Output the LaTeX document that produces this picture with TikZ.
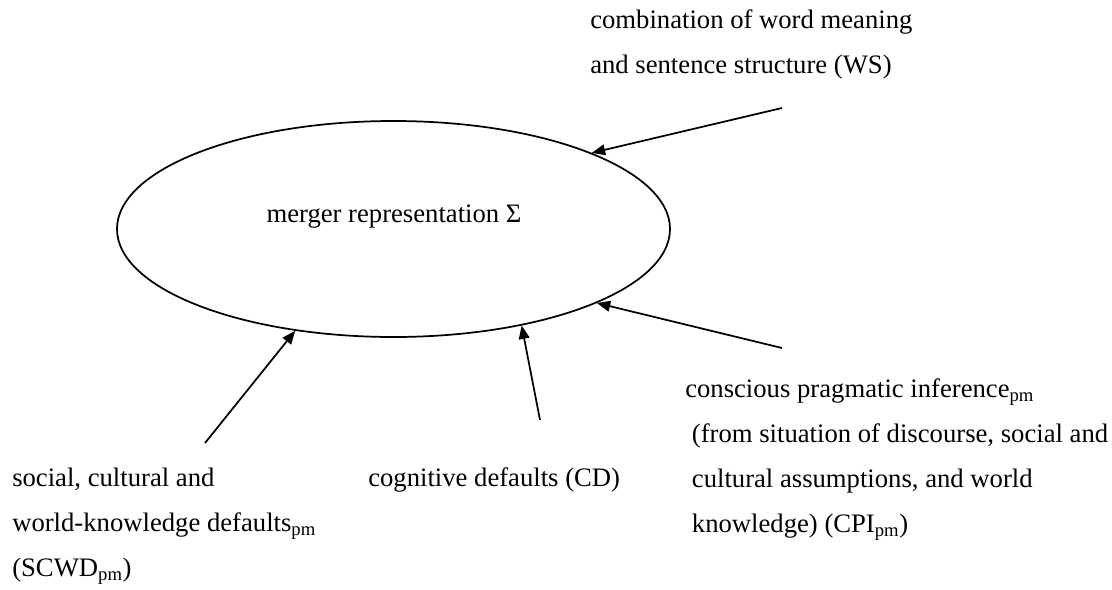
\documentclass[tikz,border=0pt]{standalone}
\usepackage{fontspec}
\setmainfont{Liberation Serif}
\usetikzlibrary{arrows}
\usetikzlibrary{arrows.meta}
\usetikzlibrary{shapes.geometric}

\begin{document}
\begin{tikzpicture}[x=0.75pt,y=-0.75pt,
            txt/.style={anchor=base west,align=left,inner sep=0pt,font=\fontsize{20}{33.75}\selectfont},
            feed/.style={line width=1.3pt,arrows={-Triangle[length=10pt,width=8pt]}}]
            \useasboundingbox (0,0) rectangle (1112,589);
            \node[draw,ellipse,line width=1.3pt,minimum width=414.75pt,minimum height=162pt,inner sep=0pt] (merger) at (393.5,229) {};
            \node[txt,anchor=base] (mergerlabel) at (394,222) {merger representation Σ};
            % multi-line labels sit on the baseline of their last line
            \node[txt] (ws) at (590,73) {combination of word meaning\\and sentence structure (WS)};
            \node[txt] (cpi) at (685,532) {conscious pragmatic inference\textsubscript{pm}\\
                \hspace*{.25em}(from situation of discourse, social and\\
                \hspace*{.25em}cultural assumptions, and world\\
                \hspace*{.25em}knowledge) (CPI\textsubscript{pm})};
            \node[txt] (cd) at (368,486) {cognitive defaults (CD)};
            \node[txt] (scwd) at (12,576) {social, cultural and\\world-knowledge defaults\textsubscript{pm}\\(SCWD\textsubscript{pm})};
            \coordinate (wsfoot) at (782,108);
            \coordinate (cpifoot) at (782,348);
            \coordinate (cdfoot) at (540,420);
            \coordinate (scwdfoot) at (205,443);
            \draw[feed] (wsfoot) -- (merger.21.2);
            \draw[feed] (cpifoot) -- (merger.-20.1);
            \draw[feed] (cdfoot) -- (merger.-37.6);
            \draw[feed] (scwdfoot) -- (merger.-134.3);
\end{tikzpicture}
\end{document}
